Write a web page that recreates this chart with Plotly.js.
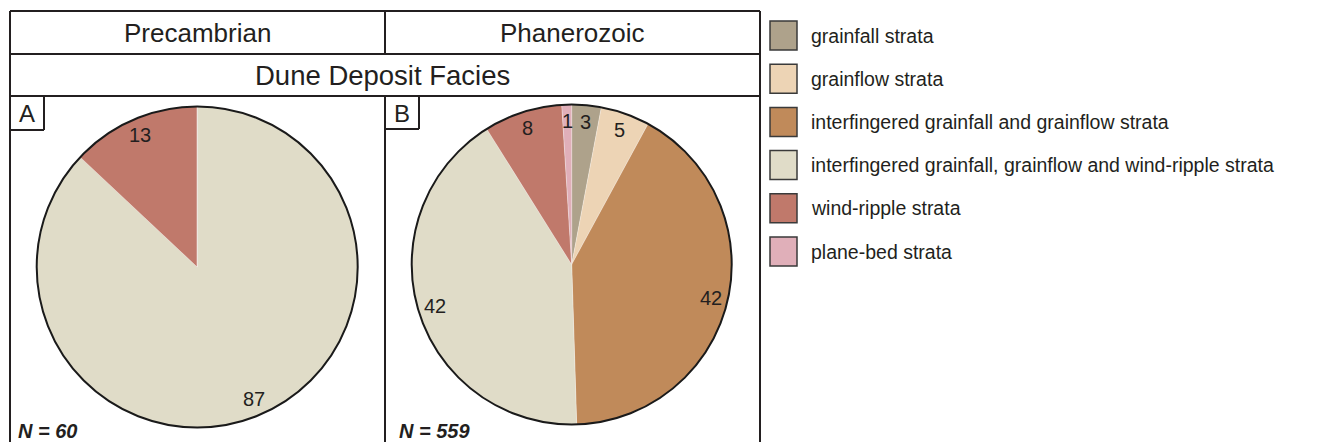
<!DOCTYPE html>
<html>
<head>
<meta charset="utf-8">
<script src="https://cdn.plot.ly/plotly-3.0.1.min.js"></script>
<style>html,body{margin:0;padding:0;background:#fff;}#chart{width:1323px;height:442px;}</style>
</head>
<body>
<div id="chart"></div>
<script>
// ---- data ----
const categories = [
  'grainfall strata',
  'grainflow strata',
  'interfingered grainfall and grainflow strata',
  'interfingered grainfall, grainflow and wind-ripple strata',
  'wind-ripple strata',
  'plane-bed strata'
];
const colors = ['#aea28b', '#edd4b5', '#c08a5a', '#e0dcc8', '#c0796b', '#e0afb9'];
const precambrianValues = [0, 0, 0, 87, 13, 0];
const phanerozoicValues = [3, 5, 42, 42, 8, 1];
const eraTitles = ['Precambrian', 'Phanerozoic'];
const facetTitle = 'Dune Deposit Facies';
const panelLetters = ['A', 'B'];
const sampleSizes = [60, 559];

// ---- geometry helpers (pixels -> paper) ----
const W = 1323, H = 442;
const px = x => x / W;
const py = y => 1 - y / H;
const ink = '#231f20';
const FONT = '"Liberation Sans", Arial, Helvetica, sans-serif';

// pie placement in pixels: center + radius
const pies = [
  {cx: 197.2, cy: 267, r: 160.5, values: precambrianValues},
  {cx: 571.7, cy: 264.5, r: 160, values: phanerozoicValues}
];

const traces = pies.map(p => ({
  type: 'pie',
  labels: categories,
  values: p.values,
  sort: false,
  direction: 'clockwise',
  rotation: 0,
  textinfo: 'none',
  hoverinfo: 'label+value',
  showlegend: false,
  marker: {colors: colors, line: {color: 'rgba(255,255,255,0.45)', width: 0.6}},
  domain: {x: [px(p.cx - p.r), px(p.cx + p.r)], y: [py(p.cy + p.r), py(p.cy - p.r)]}
}));

const shapes = [];
const annotations = [];
const line = (x0, y0, x1, y1) => shapes.push({type: 'line', xref: 'paper', yref: 'paper',
  x0: px(x0), y0: py(y0), x1: px(x1), y1: py(y1), line: {color: ink, width: 2}});

// frame
line(10, 11, 760, 11);
line(10, 54, 760, 54);
line(10, 96, 760, 96);
line(10, 11, 10, 450);
line(760, 11, 760, 450);
line(385, 11, 385, 54);
line(385, 96, 385, 450);
// letter boxes
line(44, 96, 44, 130); line(10, 130, 44, 130);
line(419, 96, 419, 129); line(385, 129, 419, 129);

// header texts
const txt = (x, y, text, size, opts) => annotations.push(Object.assign({
  xref: 'paper', yref: 'paper', x: px(x), y: py(y), text: text, showarrow: false,
  xanchor: 'center', yanchor: 'middle', font: {family: FONT, size: size, color: ink}
}, opts || {}));

txt(197.5, 33, eraTitles[0], 26);
txt(572.5, 33, eraTitles[1], 26);
txt(383, 75.5, facetTitle, 27.5);
txt(27, 114, panelLetters[0], 24);
txt(402, 114, panelLetters[1], 24);
txt(16, 431, '<b><i>N = ' + sampleSizes[0] + '</i></b>', 20, {xanchor: 'left'});
txt(397, 431, '<b><i>N = ' + sampleSizes[1] + '</i></b>', 20, {xanchor: 'left'});

// pie outlines + value labels
pies.forEach(p => {
  shapes.push({type: 'circle', xref: 'paper', yref: 'paper',
    x0: px(p.cx - p.r), x1: px(p.cx + p.r), y0: py(p.cy + p.r), y1: py(p.cy - p.r),
    line: {color: '#1a1a1a', width: 2}, fillcolor: 'rgba(0,0,0,0)'});
  const total = p.values.reduce((a, b) => a + b, 0);
  let cum = 0;
  p.values.forEach(v => {
    if (v > 0) {
      const mid = (cum + v / 2) / total * 2 * Math.PI; // clockwise from 12 o'clock
      const rr = p.r * 0.895;
      txt(p.cx + rr * Math.sin(mid), p.cy - rr * Math.cos(mid), String(v), 20);
    }
    cum += v;
  });
});

// legend
categories.forEach((c, i) => {
  const yc = 35.5 + 43.2 * i;
  shapes.push({type: 'rect', xref: 'paper', yref: 'paper',
    x0: px(770), x1: px(797), y0: py(yc + 14.5), y1: py(yc - 14.5),
    fillcolor: colors[i], line: {color: '#3a3a3a', width: 1.5}});
  txt(809, yc, c, 19.5, {xanchor: 'left'});
});

const layout = {
  width: W, height: H,
  margin: {l: 0, r: 0, t: 0, b: 0},
  paper_bgcolor: '#ffffff',
  plot_bgcolor: '#ffffff',
  showlegend: false,
  font: {family: FONT, color: ink},
  shapes: shapes,
  annotations: annotations
};

Plotly.newPlot('chart', traces, layout, {displayModeBar: false, staticPlot: true});
</script>
</body>
</html>
